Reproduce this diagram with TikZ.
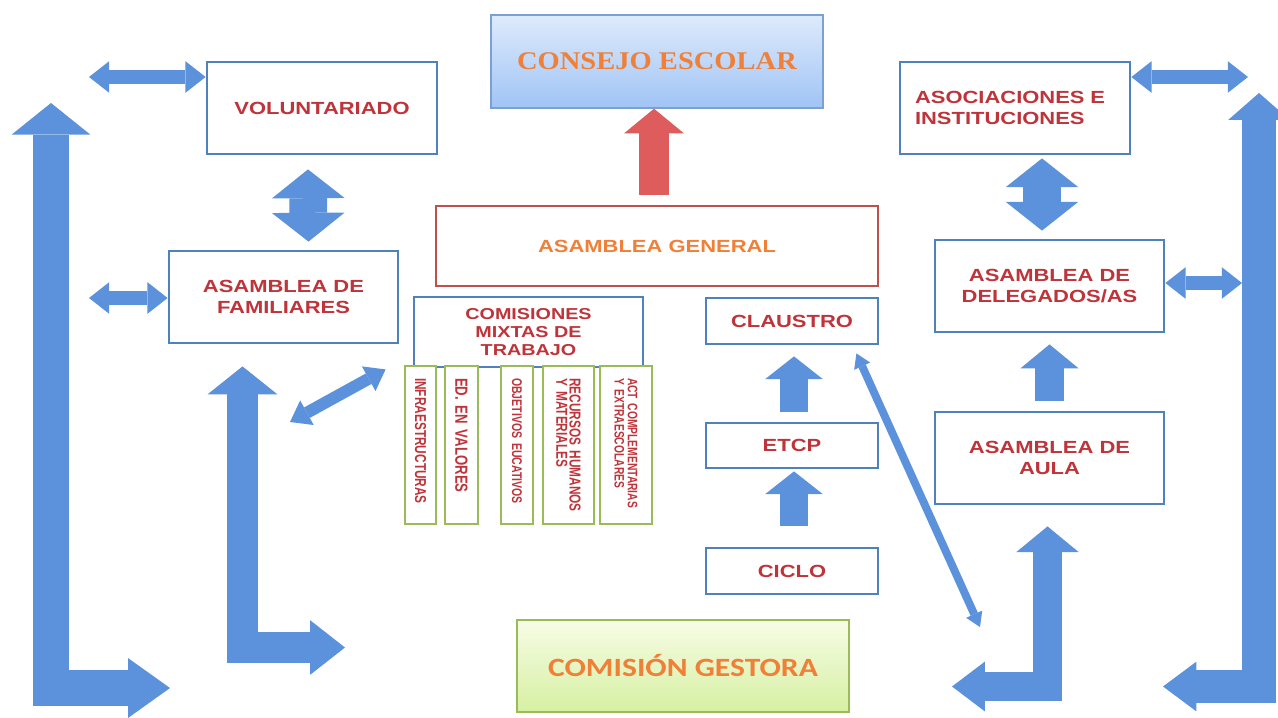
\documentclass[tikz,border=0pt]{standalone}
\usepackage{fontspec}
\usepackage{tikz}
\usetikzlibrary{arrows.meta, calc}
\newfontfamily\boxfont[FakeStretch=1.25]{Liberation Sans}
\newfontfamily\narrowfont[FakeStretch=0.75]{Liberation Sans}
\newfontfamily\titlefont[FakeStretch=1.12]{Liberation Serif}
\newfontfamily\gestorafont[FakeStretch=1.2]{Carlito}
\definecolor{boxblue}{RGB}{79,129,189}
\definecolor{textred}{RGB}{190,52,58}
\definecolor{myorange}{RGB}{240,128,56}
\definecolor{redline}{RGB}{192,80,77}
\definecolor{greenline}{RGB}{155,187,89}
\definecolor{arrowblue}{RGB}{92,146,220}
\definecolor{arrowred}{RGB}{222,92,92}
\definecolor{sky1}{RGB}{222,234,252}
\definecolor{sky2}{RGB}{160,196,245}
\definecolor{sky3}{RGB}{125,160,212}
\definecolor{lime1}{RGB}{247,252,230}
\definecolor{lime2}{RGB}{214,240,162}
\tikzstyle{bluebox} = [draw=boxblue, line width=1.6pt, fill=white,
    minimum width=4.6cm, minimum height=1.84cm, text=textred,
    font=\boxfont\bfseries\fontsize{10}{12}\selectfont, align=center]
\tikzstyle{redbox} = [draw=redline, line width=1.6pt, fill=white,
    minimum width=8.84cm, minimum height=1.6cm, text=myorange,
    font=\boxfont\bfseries\fontsize{10}{12}\selectfont]
\tikzstyle{greenbox} = [draw=greenline, line width=1.6pt, fill=white,
    rotate=-90, minimum width=3.16cm, inner xsep=0pt, text width=2.68cm,
    align=left, text=textred]
\tikzstyle{skybox} = [draw=sky3, line width=0.8pt, top color=sky1, bottom color=sky2,
    minimum width=6.64cm, minimum height=1.86cm, text=myorange,
    font=\titlefont\bfseries\fontsize{14.5}{17}\selectfont]
\tikzstyle{limebox} = [draw=greenline, line width=0.8pt, top color=lime1, bottom color=lime2,
    minimum width=6.64cm, minimum height=1.84cm, text=myorange,
    font=\gestorafont\bfseries\fontsize{15}{18}\selectfont]
\tikzstyle{hdouble} = [draw=arrowblue, line width=8.5pt,
    {Triangle[width=18pt,length=11.5pt,line width=0pt]}-{Triangle[width=18pt,length=11.5pt,line width=0pt]}]
\tikzstyle{vdouble} = [draw=arrowblue, line width=21.5pt,
    {Triangle[width=41.4pt,length=16.4pt,line width=0pt]}-{Triangle[width=41.4pt,length=16.4pt,line width=0pt]}]
\tikzstyle{upblock} = [draw=arrowblue, line width=16pt,
    -{Triangle[width=33pt,length=13pt,line width=0pt]}]
\tikzstyle{lblock} = [draw=arrowblue, line join=miter]

\begin{document}
\begin{tikzpicture}[x=0.02cm, y=-0.02cm]
\path[use as bounding box, fill=white] (0,0) rectangle (1278,717);

%%% TOP
\node[skybox] (consejo) at (657,61.5) {CONSEJO ESCOLAR};
\node[redbox] (general) at (657,246) {ASAMBLEA GENERAL};
\draw[upblock, draw=arrowred, line width=17pt, -{Triangle[width=34pt,length=14pt,line width=0pt]}]
    ($(general.north)+(-3,-10)$) -- ($(consejo.south)+(-3,0)$);

%%% LEFT SIDE
\node[bluebox] (volunt) at (322,108) {VOLUNTARIADO};
\node[bluebox, minimum width=4.58cm] (famil) at (283.5,297) {ASAMBLEA DE\\FAMILIARES};

\coordinate (vl) at (89,77);
\coordinate (fl) at (89,298);
\draw[hdouble] (vl) -- (vl -| volunt.west);
\draw[hdouble] (fl) -- (fl -| famil.west);
\draw[vdouble] ($(volunt.south)+(-14,14)$) -- ($(famil.north)+(25,-8)$);

% Big bent arrows on the left
\coordinate (l1) at (51,103);
\coordinate (l1end) at (170,688);
\draw[lblock, line width=20.4pt,
    {Triangle[width=44.8pt,length=18pt,line width=0pt]}-{Triangle[width=34pt,length=23.8pt,line width=0pt]}]
    (l1) |- (l1end);
\coordinate (l2end) at (345,647.5);
\draw[lblock, line width=18pt,
    {Triangle[width=39.7pt,length=15.9pt,line width=0pt]}-{Triangle[width=31pt,length=19.8pt,line width=0pt]}]
    ($(famil.south)+(-41,22)$) |- (l2end);

%%% COMISIONES
\node[bluebox, minimum width=4.58cm, minimum height=1.4cm,
    font=\boxfont\bfseries\fontsize{9}{10.2}\selectfont] (comis) at (528.5,332)
    {COMISIONES\\MIXTAS DE\\TRABAJO};
\node[greenbox, minimum height=0.62cm, font=\narrowfont\bfseries\fontsize{9}{8}\selectfont]
    (g1) at (420.5,445) {INFRAESTRUCTURAS};
\node[greenbox, minimum height=0.66cm, font=\narrowfont\bfseries\fontsize{10}{8}\selectfont]
    (g2) at (461.5,445) {ED. EN VALORES};
\node[greenbox, minimum height=0.64cm, font=\narrowfont\bfseries\fontsize{8}{8}\selectfont]
    (g3) at (517,445) {OBJETIVOS EUCATIVOS};
\node[greenbox, minimum height=1.02cm, font=\narrowfont\bfseries\fontsize{9}{7.5}\selectfont]
    (g4) at (568.5,445) {RECURSOS HUMANOS\\Y MATERIALES};
\node[greenbox, minimum height=1.04cm, font=\narrowfont\bfseries\fontsize{7.8}{7.5}\selectfont]
    (g5) at (626,445) {ACT COMPLEMENTARIAS\\Y EXTRAESCOLARES};

\coordinate (cd) at (290,422);
\draw[draw=arrowblue, line width=6.8pt,
    {Triangle[width=16pt,length=11pt,line width=0pt]}-{Triangle[width=16pt,length=11pt,line width=0pt]}]
    (cd) -- ($(comis.south west)+(-27,1)$);

%%% CLAUSTRO
\node[bluebox, minimum width=3.44cm, minimum height=0.92cm] (claustro) at (792,321) {CLAUSTRO};
\node[bluebox, minimum width=3.44cm, minimum height=0.9cm] (etcp) at (792,445.5) {ETCP};
\node[bluebox, minimum width=3.44cm, minimum height=0.92cm] (ciclo) at (792,571) {CICLO};
\draw[upblock] ($(etcp.north)+(2,-10)$) -- ($(claustro.south)+(2,11)$);
\draw[upblock] ($(ciclo.north)+(2,-21)$) -- ($(etcp.south)+(2,2)$);

\coordinate (gd) at (980,627);
\draw[draw=arrowblue, line width=4.5pt,
    {Triangle[width=10pt,length=8pt,line width=0pt]}-{Triangle[width=10pt,length=8pt,line width=0pt]}]
    ($(claustro.south east)+(-23,8)$) -- (gd);

%%% BOTTOM
\node[limebox] (gestora) at (683,666) {COMISIÓN GESTORA};

%%% RIGHT SIDE
\node[bluebox, text width=4cm, align=left] (asoc) at (1015,108) {ASOCIACIONES E\\INSTITUCIONES};
\node[bluebox, minimum width=4.58cm] (deleg) at (1049.5,286) {ASAMBLEA DE\\DELEGADOS/AS};
\node[bluebox, minimum width=4.58cm] (aula) at (1049.5,458) {ASAMBLEA DE\\AULA};

\coordinate (ar) at (1248,77);
\coordinate (dr) at (1242,283);
\draw[hdouble] (asoc.east |- ar) -- (ar);
\draw[hdouble] (deleg.east |- dr) -- (dr);
\draw[vdouble] ($(asoc.south)+(27,3)$) -- ($(deleg.north)+(-7.5,-8)$);
\draw[upblock, line width=17pt, -{Triangle[width=33pt,length=13.6pt,line width=0pt]}]
    ($(aula.north)+(0,-10)$) -- ($(deleg.south)+(0,11)$);

% Big bent arrows on the right
\coordinate (r1end) at (952,686.5);
\draw[lblock, line width=17pt,
    {Triangle[width=35.7pt,length=14.7pt,line width=0pt]}-{Triangle[width=28.3pt,length=18.7pt,line width=0pt]}]
    ($(aula.south)+(-2,21)$) |- (r1end);
\coordinate (r2) at (1259,93);
\coordinate (r2end) at (1163,686.5);
\draw[lblock, line width=19.3pt,
    {Triangle[width=35pt,length=15.3pt,line width=0pt]}-{Triangle[width=28.3pt,length=19pt,line width=0pt]}]
    (r2) |- (r2end);

\end{tikzpicture}
\end{document}
